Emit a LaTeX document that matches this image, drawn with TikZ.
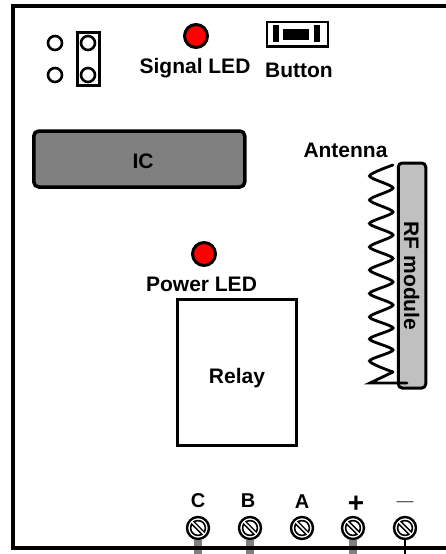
\documentclass[tikz,border=0pt]{standalone}
\usepackage{fontspec}
\setmainfont{Liberation Sans}
\usetikzlibrary{calc}
\definecolor{icgray}{RGB}{128,128,128}
\definecolor{rfgray}{RGB}{192,192,192}
\tikzset{
  lbl/.style={font=\fontsize{21}{24}\selectfont\bfseries,text=black,inner sep=0pt,anchor=base},
  led/.style={circle,draw=black,line width=3pt,fill=red,minimum size=23pt,inner sep=0pt},
  pin/.style={circle,draw=black,line width=2.6pt,fill=white,minimum size=14pt,inner sep=0pt},
  screwbody/.style={circle,draw=black,line width=2.4pt,fill=white,minimum size=22pt,inner sep=0pt},
  fatstem/.style={draw=icgray,line width=8pt},
  thinstem/.style={draw=black,line width=2.8pt},
  edgeline/.style={draw=black,line width=3.5pt},
  solidbit/.style={fill=black,inner sep=0pt}
}
\newcommand{\screwat}[3]{%
  \node[screwbody] (#1) at (#2,#3) {};
  \draw[black,line width=1.6pt] (#2,#3) circle (7.4pt);
  \draw[black,line width=4.6pt] ($(#2,#3)+(-5.6,-5.6)$) -- ($(#2,#3)+(5.6,5.6)$);
  \draw[white,line width=1.6pt] ($(#2,#3)+(-6.4,-6.4)$) -- ($(#2,#3)+(6.4,6.4)$);
}
\begin{document}
\begin{tikzpicture}[x=1pt,y=-1pt]
\useasboundingbox (0,0) rectangle (446,554);
% screws and stems
\coordinate (s1) at (198,554);
\coordinate (s2) at (250,554);
\coordinate (s4) at (353,554);
\coordinate (s5) at (405,554);
\screwat{c}{198}{528}
\screwat{b}{250}{528}
\screwat{a}{302}{528}
\screwat{p}{353}{528}
\screwat{m}{405}{528}
\draw[fatstem] (c.south) -- (s1);
\draw[fatstem] (b.south) -- (s2);
\draw[fatstem] (p.south) -- (s4);
\draw[thinstem] (m.south) -- (s5);
% board edge
\coordinate (bl) at (13,548);
\coordinate (tl) at (13,5.8);
\coordinate (tr) at (446,5.8);
\coordinate (br) at (446,548);
\draw[edgeline] (br) -- (bl) -- (tl) -- (tr);
% jumper
\node[pin] (j1) at (55,43) {};
\node[pin] (j2) at (55,75) {};
\node[pin] (j3) at (88,43) {};
\node[pin] (j4) at (88,75) {};
\node[draw=black,line width=2.6pt,minimum width=22.5pt,minimum height=53.5pt,inner sep=0pt] (jumper) at (88.5,59) {};
% LEDs
\node[led] (sled) at (196,36) {};
\node[lbl] (sledl) at (195,73) {Signal LED};
\node[led] (pled) at (204,254) {};
\node[lbl] (pledl) at (201.5,291) {Power LED};
% button
\node[draw=black,line width=2.2pt,minimum width=61pt,minimum height=24.5pt,inner sep=0pt] (btn) at (297.3,34.3) {};
\node[solidbit,minimum width=6pt,minimum height=17pt] (btnl) at (276,33.5) {};
\node[solidbit,minimum width=26pt,minimum height=11pt] (btnm) at (296,34.5) {};
\node[solidbit,minimum width=6pt,minimum height=17pt] (btnr) at (317,33.5) {};
\node[lbl] (btnt) at (299,77) {Button};
% IC
\node[draw=black,line width=3.5pt,fill=icgray,rounded corners=5pt,minimum width=211pt,minimum height=56pt,inner sep=0pt] (ic) at (139.3,159) {};
\node[lbl] (ict) at (143,168) {IC};
% relay
\node[draw=black,line width=3pt,fill=white,minimum width=119pt,minimum height=146pt,inner sep=0pt] (relay) at (236.5,372.5) {};
\node[lbl] (relayt) at (237,383) {Relay};
% RF module
\node[draw=black,line width=3pt,fill=rfgray,rounded corners=4pt,minimum width=27.5pt,minimum height=225pt,inner sep=0pt] (rf) at (412,275.5) {};
\node[lbl,rotate=-90] (rft) at (404,276) {RF module};
\node[lbl] (ant) at (345.5,157) {Antenna};
% antenna coil
\coordinate (coilend) at (407,383);
\draw[black,line width=2.8pt,line cap=round] plot[smooth,tension=0.45] coordinates {
  (393,165) (369.5,176) (393,188) (369.5,200) (393,212) (369.5,223.5) (393,235)
  (369.5,247) (393,258.5) (369.5,270) (393,282) (369.5,293.5) (393,305) (369.5,317)
  (393,328) (369.5,339) (393,350) (369.5,361) (393,372)};
\draw[black,line width=2.8pt,line cap=round] (393,372) -- (370,383) -- (coilend);
% terminals
\node[lbl,font=\fontsize{20}{24}\selectfont\bfseries] (tc) at (198,507) {C};
\node[lbl,font=\fontsize{20}{24}\selectfont\bfseries] (tb) at (248,507) {B};
\node[lbl,font=\fontsize{20}{24}\selectfont\bfseries] (ta) at (302,508) {A};
\node[inner sep=0pt,font=\fontsize{28}{28}\selectfont\bfseries] (tp) at (356,504) {+};
\node[inner sep=0pt,font=\fontsize{17}{20}\selectfont,text={rgb,255:red,70;green,70;blue,70}] (tm) at (405,504) {—};
\end{tikzpicture}
\end{document}
